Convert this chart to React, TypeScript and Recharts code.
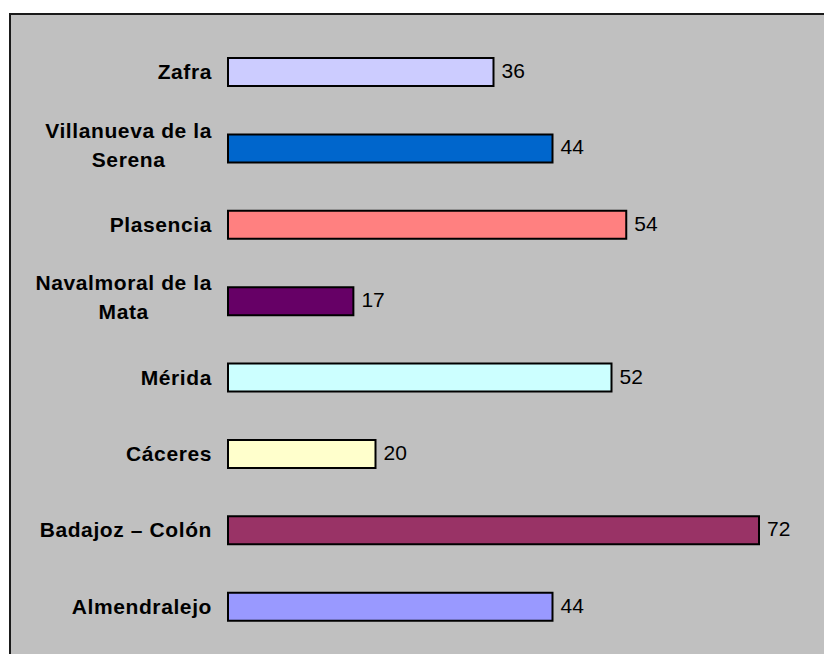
import { BarChart, Bar, XAxis, YAxis, Cell, LabelList } from "recharts";

const offices = [
  "Zafra",
  "Villanueva de la Serena",
  "Plasencia",
  "Navalmoral de la Mata",
  "Mérida",
  "Cáceres",
  "Badajoz – Colón",
  "Almendralejo",
];
const counts = [36, 44, 54, 17, 52, 20, 72, 44];
const barColors = ["#CCCCFF", "#0066CC", "#FF8080", "#660066", "#CCFFFF", "#FFFFCC", "#993366", "#9999FF"];

const data = offices.map((name, i) => ({ name, value: counts[i] }));

const FONT = "'Liberation Sans', Arial, sans-serif";
const SPACING = 0.6;

let ctx: CanvasRenderingContext2D | null = null;
const measure = (s: string) => {
  if (!ctx) ctx = document.createElement("canvas").getContext("2d");
  if (!ctx) return s.length * 11;
  ctx.font = "bold 21px 'Liberation Sans'";
  return ctx.measureText(s).width + s.length * SPACING;
};

// break long names the way the original does ("Villanueva de la" / "Serena")
const wrap = (label: string, max = 16) => {
  const lines: string[] = [];
  let cur = "";
  label.split(" ").forEach((w) => {
    const next = cur ? cur + " " + w : w;
    if (next.length > max && cur) {
      lines.push(cur);
      cur = w;
    } else cur = next;
  });
  lines.push(cur);
  return lines;
};

const OfficeTick = (props: any) => {
  const { x, y, payload } = props;
  const lines = wrap(payload.value);
  const right = x - 16;
  const style = { fontFamily: FONT, fontSize: 21, fontWeight: "bold" as const, letterSpacing: SPACING };
  if (lines.length === 1) {
    return (
      <text x={right} y={y + 7} textAnchor="end" fill="#000" style={style}>
        {lines[0]}
      </text>
    );
  }
  const w = Math.max(...lines.map(measure));
  const cx = right - w / 2;
  return (
    <text textAnchor="middle" fill="#000" style={style}>
      {lines.map((l, i) => (
        <tspan key={i} x={cx} y={y - 11 + i * 29}>
          {l}
        </tspan>
      ))}
    </text>
  );
};

const ValueLabel = (props: any) => {
  const { x, y, width, height, value } = props;
  return (
    <text x={x + width + 8} y={y + height / 2 + 6} fill="#000" style={{ fontFamily: FONT, fontSize: 21 }}>
      {value}
    </text>
  );
};

export default function App() {
  return (
    <div style={{ position: "relative", width: 824, height: 654, background: "#fff", overflow: "hidden" }}>
      <style>{"body{margin:0}"}</style>
      <div
        style={{
          position: "absolute",
          left: 9,
          top: 13,
          width: 840,
          height: 670,
          background: "#C0C0C0",
          border: "2px solid #1a1a1a",
        }}
      />
      <div style={{ position: "absolute", left: 0, top: 0 }}>
        <BarChart
          width={824}
          height={654}
          data={data}
          layout="vertical"
          margin={{ top: 34, right: 65, left: 0, bottom: 9 }}
          barSize={28}
        >
          <XAxis type="number" domain={[0, 72]} hide />
          <YAxis
            type="category"
            dataKey="name"
            width={228}
            axisLine={false}
            tickLine={false}
            tickSize={0}
            tickMargin={0}
            tick={OfficeTick}
            interval={0}
          />
          <Bar dataKey="value" stroke="#000" strokeWidth={2} isAnimationActive={false}>
            {data.map((d, i) => (
              <Cell key={d.name} fill={barColors[i]} />
            ))}
            <LabelList dataKey="value" content={ValueLabel} />
          </Bar>
        </BarChart>
      </div>
    </div>
  );
}
